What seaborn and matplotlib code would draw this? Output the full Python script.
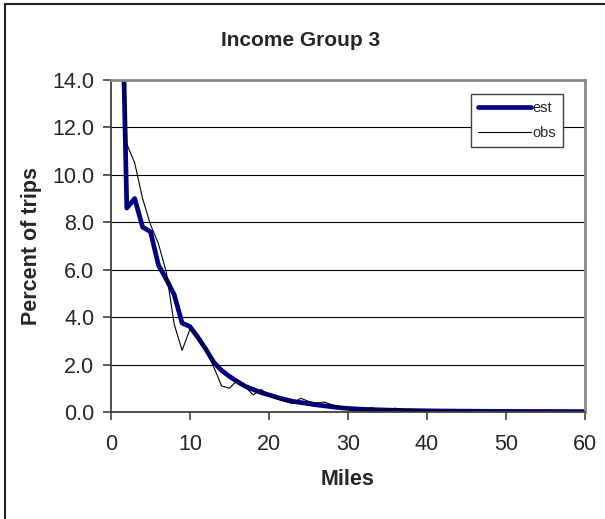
import numpy as np
import pandas as pd
import matplotlib
matplotlib.use("Agg")
import matplotlib.pyplot as plt
from matplotlib.patches import Rectangle
from matplotlib.lines import Line2D
import seaborn as sns

miles = list(range(1, 61))

est = [24.0, 8.6, 9.0, 7.8, 7.6, 6.2, 5.6, 4.95, 3.75, 3.6,
       3.15, 2.65, 2.1, 1.75, 1.5, 1.28, 1.08, 0.95, 0.82, 0.72,
       0.62, 0.53, 0.45, 0.40, 0.35, 0.30, 0.26, 0.22, 0.18, 0.15,
       0.13, 0.11, 0.10, 0.09, 0.08, 0.07, 0.065, 0.06, 0.055, 0.05,
       0.045, 0.042, 0.04, 0.037, 0.035, 0.032, 0.03, 0.028, 0.027, 0.026,
       0.025, 0.024, 0.023, 0.022, 0.021, 0.02, 0.02, 0.019, 0.018, 0.018]

obs = [22.0, 11.3, 10.5, 9.0, 7.9, 7.1, 5.9, 3.7, 2.6, 3.5,
       3.05, 2.65, 1.9, 1.1, 1.0, 1.35, 1.05, 0.72, 0.95, 0.7,
       0.55, 0.45, 0.35, 0.58, 0.45, 0.38, 0.42, 0.3, 0.2, 0.15,
       0.05, 0.1, 0.18, 0.06, 0.1, 0.16, 0.1, 0.08, 0.06, 0.05,
       0.04, 0.06, 0.03, 0.04, 0.02, 0.03, 0.02, 0.03, 0.01, 0.02,
       0.02, 0.01, 0.02, 0.01, 0.01, 0.02, 0.01, 0.01, 0.01, 0.01]

x_ticks = [0, 10, 20, 30, 40, 50, 60]
y_ticks = [0, 2, 4, 6, 8, 10, 12, 14]

df = pd.DataFrame({
    "Miles": miles * 2,
    "Percent of trips": est + obs,
    "series": ["est"] * len(miles) + ["obs"] * len(miles),
})

sns.set_theme(style="white")
plt.rcParams["font.family"] = ["Liberation Sans", "DejaVu Sans"]

fig = plt.figure(figsize=(6.05, 5.19), dpi=100)
ax = fig.add_axes([111 / 605, 107 / 519, 474 / 605, 332 / 519])

sns.lineplot(data=df, x="Miles", y="Percent of trips", hue="series", size="series",
             palette={"est": "#000080", "obs": "#000000"},
             sizes={"est": 3.4, "obs": 0.8},
             ax=ax, legend=False, estimator=None, sort=False)

ax.set_xlim(0, 60)
ax.set_ylim(0, 14)
ax.set_xticks(x_ticks)
ax.set_yticks(y_ticks)
ax.set_xticklabels([str(v) for v in x_ticks], fontsize=15.5)
ax.set_yticklabels([f"{v:.1f}" for v in y_ticks], fontsize=15.5)
ax.tick_params(axis="both", direction="out", length=6, width=1.2, color="#404040",
               left=True, bottom=True)
ax.tick_params(axis="x", pad=10)
ax.tick_params(axis="y", pad=6)
ax.yaxis.grid(True, color="black", linewidth=0.8)
ax.set_axisbelow(True)

for side in ("left", "bottom"):
    ax.spines[side].set_color("#404040")
    ax.spines[side].set_linewidth(1.3)
for side in ("top", "right"):
    ax.spines[side].set_color("#8a8a8a")
    ax.spines[side].set_linewidth(2.0)

ax.set_xlabel("Miles", fontsize=15.5, fontweight="bold", labelpad=10)
ax.set_ylabel("Percent of trips", fontsize=15.5, fontweight="bold", labelpad=7)
fig.text(301 / 605, 1 - 40 / 519, "Income Group 3", fontsize=15, fontweight="bold",
         ha="center", va="center")

handles = [Line2D([], [], color="#000080", linewidth=3.4),
           Line2D([], [], color="#000000", linewidth=0.8)]
leg = ax.legend(handles, ["est", "obs"], loc="upper left",
                bbox_to_anchor=(0.759, 0.958), fontsize=10.5,
                frameon=True, fancybox=False, framealpha=1.0,
                edgecolor="#404040", handlelength=3.6, handletextpad=0.1,
                borderpad=0.5, labelspacing=0.75, borderaxespad=0)
leg.get_frame().set_linewidth(1.0)

fig.patches.append(Rectangle((4.5 / 605, -0.05), 1.2, 1 - 3.5 / 519 + 0.05,
                             transform=fig.transFigure, fill=False,
                             edgecolor="#202020", linewidth=1.5))

fig.savefig("out.png", dpi=100)
